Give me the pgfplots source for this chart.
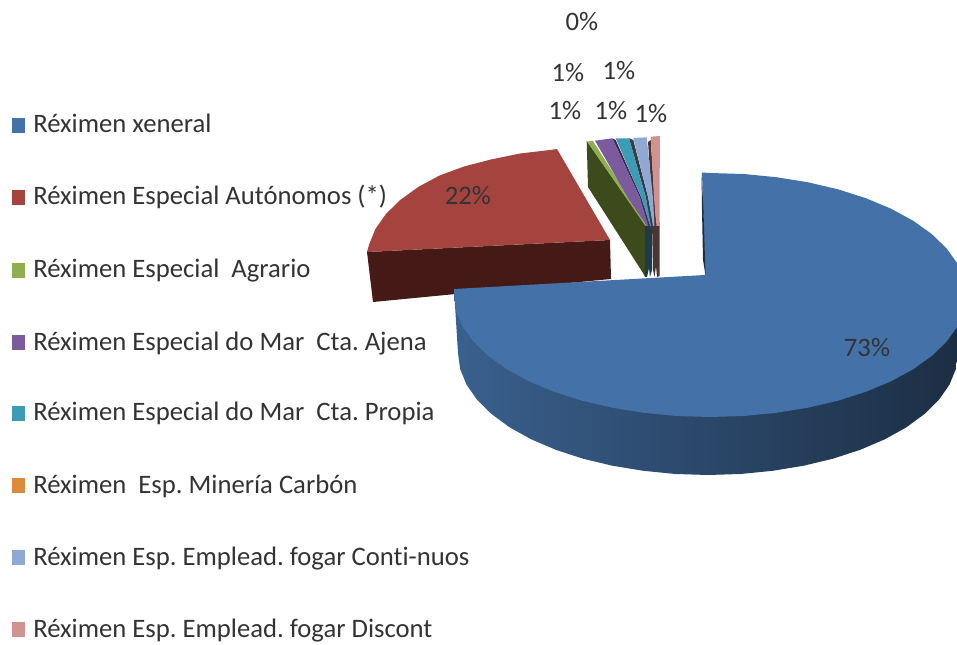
\documentclass[border=0pt]{standalone}
\usepackage{pgfplots}
\pgfplotsset{compat=1.18}
\usepackage{fontspec}
\setmainfont{Carlito}[Ligatures=NoCommon]
\frenchspacing
\definecolor{bluetop}{HTML}{4471A7}
\definecolor{redtop}{HTML}{A5443F}
\definecolor{redside}{HTML}{451A16}
\definecolor{greentop}{HTML}{8FAE50}
\definecolor{greenside}{HTML}{3D4A1C}
\definecolor{purpletop}{HTML}{7B5A9E}
\definecolor{tealtop}{HTML}{3C9BB5}
\definecolor{orangetop}{HTML}{DD8A3C}
\definecolor{ltbluetop}{HTML}{8FA8D4}
\definecolor{pinktop}{HTML}{D29290}
\definecolor{txt}{HTML}{333333}
\definecolor{sliverA}{HTML}{3A2C4A}
\definecolor{sliverB}{HTML}{3A3A48}
\definecolor{sliverC}{HTML}{4A3535}
\definecolor{navyside}{HTML}{1F3A48}
\newcommand{\lab}[2]{\node[anchor=base west,inner sep=0pt,text=txt,font=\fontsize{20}{22}\selectfont] at (axis cs:33,#1) {#2};}
\newcommand{\pct}[3]{\node[text=txt,inner sep=0pt,font=\fontsize{20}{22}\selectfont] at (axis cs:#1,#2) {#3};}
\begin{document}
\begin{tikzpicture}
\useasboundingbox (0,0) rectangle (717.75pt,483.75pt);
\begin{axis}[scale only axis,width=717.75pt,height=483.75pt,xmin=0,xmax=957,ymin=0,ymax=645,y dir=reverse,hide axis,clip=true]
% legend squares
\addplot[fill=bluetop,draw=none] coordinates {(12,118)(25,118)(25,133)(12,133)} -- cycle;
\addplot[fill=redtop,draw=none] coordinates {(12,190)(25,190)(25,205)(12,205)} -- cycle;
\addplot[fill=greentop,draw=none] coordinates {(12,263)(25,263)(25,278)(12,278)} -- cycle;
\addplot[fill=purpletop,draw=none] coordinates {(12,335)(25,335)(25,350)(12,350)} -- cycle;
\addplot[fill=tealtop,draw=none] coordinates {(12,406)(25,406)(25,421)(12,421)} -- cycle;
\addplot[fill=orangetop,draw=none] coordinates {(12,478)(25,478)(25,493)(12,493)} -- cycle;
\addplot[fill=ltbluetop,draw=none] coordinates {(12,550)(25,550)(25,565)(12,565)} -- cycle;
\addplot[fill=pinktop,draw=none] coordinates {(12,622)(25,622)(25,637)(12,637)} -- cycle;
% red slice
\addplot[fill=redside,draw=none] coordinates {(367,252)(610,240)(611,279)(373,302)} -- cycle;
\addplot[fill=redtop,draw=none] coordinates {(557,149)(550.8,149.9)(520.1,153.5)(491,159.5)(464,166.5)(439.6,175.5)(418.2,187)(400.2,200)(385.9,214)(375.4,229)(369.1,244.5)(367,252)(610,240)} -- cycle;
% small slices: sides
\addplot[fill=greenside,draw=none] coordinates {(586.7,141)(588,187)(643,273)(645,277)(646,226)} -- cycle;
\addplot[fill=navyside,draw=none] coordinates {(645,222)(652,222)(652,270)(650,277)(649,268)(647,277)(645,277)} -- cycle;
\addplot[fill=sliverC,draw=none] coordinates {(652,222)(659.5,222)(659.5,276)(657,277)(656,266)(654.5,277)(653,270)} -- cycle;
\addplot[fill=sliverA,draw=none] coordinates {(612.3,138.3)(615.7,140)(641.5,198)(651,228)(646,228)(640,198)} -- cycle;
\addplot[fill=sliverB,draw=none] coordinates {(629,138.3)(633.3,140)(648.3,198)(654,228)(650,228)(646,198)} -- cycle;
\addplot[fill=sliverC,draw=none] coordinates {(648,142)(650.7,140)(656.5,228)(654,228)} -- cycle;
% small slices: tops
\addplot[fill=greentop,draw=none] coordinates {(587.3,141.7)(592.7,140.7)(647,226)(645.5,226)} -- cycle;
\addplot[fill=purpletop,draw=none] coordinates {(595,140.7)(612.3,138.3)(640,198)(648.5,226)(647,226)(628,198)} -- cycle;
\addplot[fill=tealtop,draw=none] coordinates {(615.7,138.3)(629,138.3)(646,198)(651,226)(650,226)(641.5,198)} -- cycle;
\addplot[fill=ltbluetop,draw=none] coordinates {(633.3,138)(646.7,137.3)(653,198)(654.5,226)(653,226)(648.3,198)} -- cycle;
\addplot[fill=pinktop,draw=none] coordinates {(650.7,136.7)(660,136)(659.5,198)(659.5,226)(656.5,226)(654,198)} -- cycle;
% blue side
\addplot[shade,left color=bluetop!85!black,right color=bluetop!40!black,draw=none] coordinates {(454,289)(458,353)(460.1,368.9)(466.5,384.6)(477,399.7)(491.5,414)(509.6,427.3)(531.2,439.3)(555.8,449.8)(583,458.7)(612.3,465.7)(643.3,470.8)(675.4,474)(708,475)(740.6,474)(772.7,470.8)(803.7,465.7)(833,458.7)(860.2,449.8)(884.8,439.3)(906.4,427.3)(924.5,414)(939,399.7)(949.5,384.6)(955.9,368.9)(958,353)(966,295)} -- cycle;
% blue top
\addplot[fill=bluetop,draw=none] coordinates {(702,172.5)(710,173)(743.4,174)(776.3,177.2)(808,182.3)(838,189.3)(865.9,198.2)(891,208.7)(913.1,220.7)(931.7,234)(946.5,248.3)(957.3,263.4)(963.8,279.1)(966,295)(963.8,310.9)(957.3,326.6)(946.5,341.7)(931.7,356)(913.1,369.3)(891,381.3)(865.9,391.8)(838,400.7)(808,407.7)(776.3,412.8)(743.4,416)(710,417)(676.6,416)(643.7,412.8)(612,407.7)(582,400.7)(554.1,391.8)(529,381.3)(506.9,369.3)(488.3,356)(473.5,341.7)(462.7,326.6)(456.2,310.9)(454,295)(454,289)(705,275)} -- cycle;
\addplot[fill=bluetop!40!black,draw=none] coordinates {(701.5,173)(702,210)(703,260)(705.5,275)(703.5,210)} -- cycle;
% legend labels
\lab{133}{Réximen xeneral}
\lab{205}{Réximen Especial Autónomos (*)}
\lab{278}{Réximen Especial\ \ Agrario}
\lab{350}{Réximen Especial do Mar\ \ Cta. Ajena}
\lab{421}{Réximen Especial do Mar\ \ Cta. Propia}
\lab{493}{Réximen\ \ Esp. Minería Carbón}
\lab{565}{Réximen Esp. Emplead. fogar Conti-nuos}
\lab{637}{Réximen Esp. Emplead. fogar Discont}
% percentages
\pct{582}{22}{0\%}
\pct{568}{73}{1\%}
\pct{619}{71}{1\%}
\pct{565}{111}{1\%}
\pct{611}{111}{1\%}
\pct{651}{114}{1\%}
\pct{468}{196}{22\%}
\pct{867}{348}{73\%}
\end{axis}
\end{tikzpicture}
\end{document}
